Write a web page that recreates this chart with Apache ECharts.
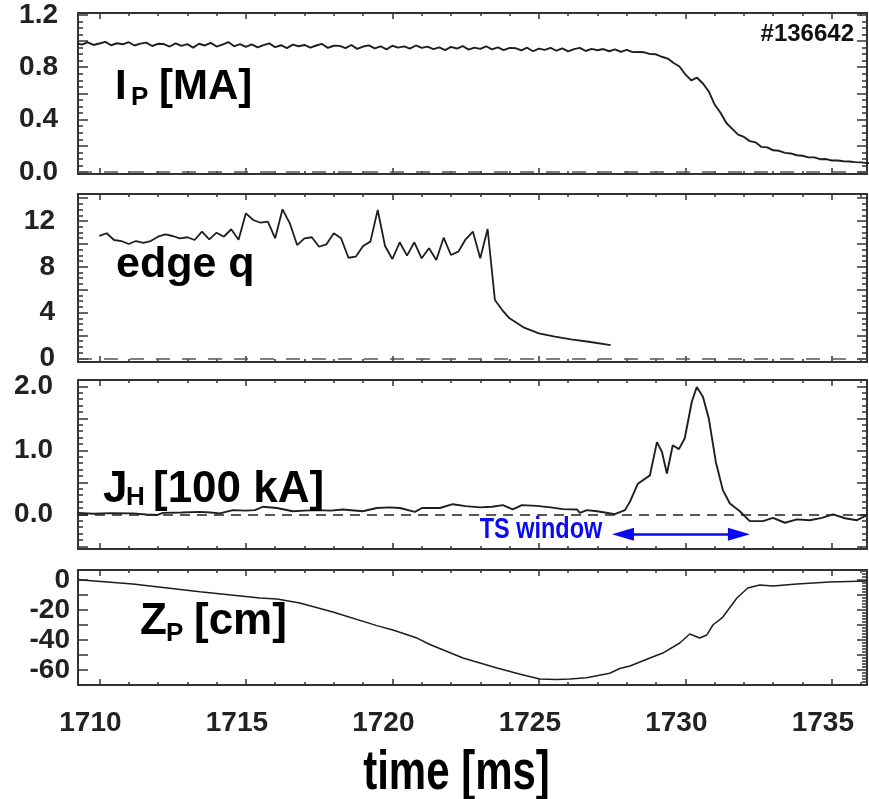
<!DOCTYPE html>
<html><head><meta charset="utf-8">
<script src="https://cdn.jsdelivr.net/npm/echarts@6/dist/echarts.min.js"></script>
<style>html,body{margin:0;padding:0;background:#fff}#c{width:869px;height:799px}</style>
</head><body><div id="c"></div>
<script>
// ---------- data ----------
const xMin = 1709.27, xMax = 1736.2;
const xTickLabels = [1710, 1715, 1720, 1725, 1730, 1735];
const xMinorTicks = [1710,1711,1712,1713,1714,1715,1716,1717,1718,1719,1720,1721,1722,1723,1724,1725,1726,1727,1728,1729,1730,1731,1732,1733,1734,1735,1736];

const ipTickLabels = [0, 0.4, 0.8, 1.2];
const qTickLabels = [0, 4, 8, 12];
const jhTickLabels = [0, 1, 2];
const zpTickLabels = [0, -20, -40, -60];

// plasma current I_P [MA], sampled every 0.2 ms from 1709.2 ms
const ipStart = 1709.2, ipStep = 0.2;
const ipValues = [
 0.985,0.972,0.990,0.970,0.981,0.994,0.968,0.983,0.975,0.991,0.966,0.980,0.988,0.962,0.979,
 0.977,0.958,0.982,0.963,0.976,0.950,0.979,0.966,0.986,0.958,0.972,0.992,0.960,0.977,0.955,
 0.974,0.951,0.969,0.982,0.953,0.968,0.946,0.973,0.960,0.970,0.950,0.966,0.978,0.948,0.964,
 0.963,0.946,0.970,0.940,0.958,0.967,0.944,0.960,0.936,0.964,0.950,0.959,0.942,0.966,0.948,
 0.957,0.938,0.952,0.930,0.955,0.943,0.962,0.934,0.950,0.940,0.960,0.936,0.952,0.931,0.948,
 0.946,0.928,0.949,0.922,0.942,0.933,0.948,0.926,0.944,0.921,0.938,0.948,0.924,0.940,0.930,
 0.939,0.922,0.936,0.918,0.933,0.915,0.916,
 0.914,0.900,0.899,0.880,0.866,0.832,0.806,0.745,0.700,0.720,
 0.676,0.615,0.515,0.452,0.374,0.330,0.286,0.268,0.236,0.226,
 0.192,0.188,0.166,0.162,0.146,0.142,0.128,0.124,0.112,0.112,
 0.098,0.099,0.088,0.088,0.082,0.080,0.076,0.074,0.068,0.068
];

// edge q
const qData = [
 [1710.00,10.70],[1710.25,10.93],[1710.50,10.34],[1710.75,10.25],[1711.00,9.99],[1711.25,10.25],[1711.50,10.08],[1711.75,10.25],
 [1712.00,10.63],[1712.25,10.84],[1712.50,10.69],[1712.75,10.49],[1713.00,10.58],[1713.25,10.34],[1713.50,11.07],[1713.75,10.40],
 [1714.00,10.98],[1714.25,10.63],[1714.50,11.28],[1714.75,10.37],[1715.00,12.67],[1715.25,12.09],[1715.50,11.85],[1715.75,11.94],
 [1716.00,10.49],[1716.25,13.02],[1716.50,11.80],[1716.75,9.90],[1717.00,10.49],[1717.25,10.58],[1717.50,9.75],[1717.75,9.96],
 [1718.00,10.93],[1718.25,10.49],[1718.50,8.79],[1718.75,8.88],[1719.00,9.82],[1719.25,10.20],[1719.50,12.96],[1719.75,9.82],
 [1720.00,8.68],[1720.25,10.14],[1720.50,8.97],[1720.75,10.14],[1721.00,8.74],[1721.25,9.62],[1721.50,8.60],[1721.75,10.54],
 [1722.00,9.03],[1722.25,9.32],[1722.50,10.40],[1722.75,11.07],[1723.00,8.74],[1723.25,11.30],[1723.50,5.10],[1723.75,4.22],
 [1724.00,3.50],[1724.50,2.68],[1725.00,2.18],[1725.55,1.89],[1726.10,1.66],[1726.70,1.45],[1727.45,1.16]
];

// halo current J_H [100 kA]
const jhData = [
 [1709.27,0.025],[1709.8,0.01],[1710.4,0.02],[1711.14,0.016],[1711.6,0.0],[1711.96,-0.01],[1712.17,0.025],[1712.8,0.03],
 [1713.43,0.04],[1713.8,0.03],[1714.11,0.016],[1714.56,0.067],[1715.0,0.06],[1715.31,0.067],[1715.58,0.12],[1716.06,0.10],
 [1716.6,0.05],[1717.0,0.06],[1717.42,0.067],[1717.9,0.06],[1718.31,0.078],[1718.99,0.05],[1719.47,0.10],[1719.9,0.11],
 [1720.26,0.10],[1720.77,0.04],[1721.01,0.10],[1721.62,0.10],[1722.06,0.16],[1722.5,0.13],[1722.99,0.11],[1723.4,0.12],
 [1723.77,0.145],[1724.11,0.08],[1724.42,0.145],[1724.93,0.134],[1725.4,0.11],[1725.82,0.083],[1726.3,0.078],[1726.4,0.025],
 [1726.64,0.067],[1726.98,0.05],[1727.25,0.03],[1727.59,0.005],[1727.94,0.067],[1728.11,0.2],[1728.38,0.48],[1728.79,0.61],
 [1729.03,1.13],[1729.2,0.98],[1729.37,0.64],[1729.57,1.08],[1729.78,1.02],[1729.98,1.19],[1730.22,1.76],[1730.39,1.99],
 [1730.6,1.84],[1730.8,1.5],[1731.04,0.82],[1731.28,0.38],[1731.52,0.17],[1731.86,0.05],[1732.2,-0.105],[1732.65,-0.105],
 [1732.99,-0.053],[1733.4,-0.13],[1733.81,-0.078],[1734.25,-0.09],[1734.66,-0.053],[1735.04,0],[1735.45,-0.06],[1735.86,-0.09],
 [1736.2,-0.01]
];

// vertical position Z_P [cm]
const zpData = [
 [1709.3,0.3],[1709.4,0],[1711.14,-2.7],[1713.43,-7.8],[1715.48,-12],[1716.06,-12.7],[1716.84,-15.3],[1717.97,-21.3],
 [1719.47,-30.4],[1720.02,-33.3],[1720.84,-38.7],[1721.28,-43],[1722.41,-52],[1723.57,-58.7],[1724.4,-63],[1725.03,-66],
 [1725.6,-66.3],[1726.06,-66],[1726.63,-65.1],[1727.42,-62.2],[1727.76,-59],[1728.11,-57.3],[1728.79,-52],[1729.23,-48.7],
 [1729.81,-42],[1730.15,-36],[1730.49,-38.7],[1730.73,-36.7],[1730.94,-30],[1731.28,-24.7],[1731.76,-12],[1732.13,-5.3],
 [1732.54,-3.3],[1732.99,-4],[1733.81,-2.7],[1734.93,-1.3],[1736.2,-0.7]
];

// TS window arrow: shaft ends (ms) and its level on the J_H axis
const tsArrowEnds = [1727.87, 1731.83];
const tsLevel = -0.31;

// ---------- build ----------
const ipData = ipValues.map((v, i) => [+(ipStart + i * ipStep).toFixed(2), v]);

function range(a, b, s) { const o = []; for (let v = a; v <= b + s * 1e-6; v += s) o.push(+v.toFixed(4)); return o; }

const FONT = "'Liberation Sans', Arial, Helvetica, sans-serif";
const FRAME = '#333';

const panels = [
  {top:13, height:161, min:-0.015, max:1.214, major:range(0,1.2,0.2), minor:range(0,1.2,0.05), minorLeft:true,
   labels:ipTickLabels, digits:1, margin:20, data:ipData, width:1.9, zero:{type:[14,12], color:'#555'}},
  {top:194, height:168, min:-0.32, max:14.36, major:range(0,14,2), minor:range(0,14,0.5), minorLeft:true,
   labels:qTickLabels, digits:0, margin:23, data:qData, width:1.8, zero:{type:[14,12], color:'#555'}},
  {top:380, height:169, min:-0.54, max:2.10, major:range(-0.5,2,0.5), minor:range(-0.5,2.1,0.1), minorLeft:true,
   labels:jhTickLabels, digits:1, margin:25, data:jhData, width:1.9, zero:{type:[10,7], color:'#222'}},
  {top:570, height:115, min:-70, max:6.67, major:range(-70,0,10), minor:range(-70,6,2), minorLeft:false,
   labels:zpTickLabels, digits:0, margin:8, data:zpData, width:1.5, zero:null}
];

const grid = [], xAxis = [], yAxis = [], series = [];
const labelStyle = {fontFamily: FONT, fontWeight: 'bold', fontSize: 28, color: '#222'};

panels.forEach((p, i) => {
  for (let k = 0; k < 2; k++) {
    const minorLayer = k === 1;
    const g = grid.length;
    grid.push({left: 78, right: 2, top: p.top, height: p.height});
    ['bottom', 'top'].forEach(pos => {
      xAxis.push({
        type: 'value', gridIndex: g, position: pos, min: xMin, max: xMax,
        axisLine: {show: !minorLayer, onZero: false, lineStyle: {color: FRAME, width: 2}},
        axisTick: {show: true, inside: true, length: minorLayer ? 3 : 6,
          customValues: minorLayer ? xMinorTicks : xTickLabels, lineStyle: {color: FRAME, width: 1.5}},
        axisLabel: Object.assign({show: !minorLayer && pos === 'bottom' && i === 3,
          customValues: xTickLabels, margin: 24, padding: [0, 18, 0, 0],
          formatter: v => String(Math.round(v))}, labelStyle),
        splitLine: {show: false}
      });
    });
    ['left', 'right'].forEach(pos => {
      yAxis.push({
        type: 'value', gridIndex: g, position: pos, min: p.min, max: p.max,
        axisLine: {show: !minorLayer, onZero: false, lineStyle: {color: FRAME, width: 2}},
        axisTick: {show: !(minorLayer && pos === 'left' && !p.minorLeft), inside: true,
          length: minorLayer ? 5 : 10, customValues: minorLayer ? p.minor : p.major,
          lineStyle: {color: FRAME, width: 1.5}},
        axisLabel: Object.assign({show: !minorLayer && pos === 'left', customValues: p.labels,
          margin: p.margin, formatter: v => Number(v).toFixed(p.digits)}, labelStyle),
        splitLine: {show: false}
      });
    });
  }
  const s = {
    type: 'line', xAxisIndex: 4 * i, yAxisIndex: 4 * i, data: p.data,
    symbol: 'none', showSymbol: false, animation: false, silent: true,
    lineStyle: {color: '#1e1e1e', width: p.width}
  };
  if (p.zero) {
    s.markLine = {silent: true, symbol: 'none', animation: false, label: {show: false},
      lineStyle: {type: p.zero.type, color: p.zero.color, width: 1.6}, data: [{yAxis: 0}]};
  }
  series.push(s);
});

// TS window arrow (J_H panel)
series.push({
  type: 'line', xAxisIndex: 8, yAxisIndex: 8, data: [], symbol: 'none', animation: false, silent: true,
  markLine: {silent: true, animation: false, symbol: ['triangle', 'triangle'], symbolSize: [13, 22],
    label: {show: false},
    lineStyle: {type: 'solid', color: '#0a0af0', width: 2.5},
    data: [[{coord: [tsArrowEnds[0], tsLevel]}, {coord: [tsArrowEnds[1], tsLevel]}]]}
});

function txt(x, y, text, size, opts) {
  return Object.assign({type: 'text', x: x, y: y, silent: true, z: 100,
    style: Object.assign({text: text, fontFamily: FONT, fontWeight: 'bold', fontSize: size,
      fill: '#000', align: 'left', verticalAlign: 'middle'}, (opts && opts.style) || {})},
    (opts && opts.el) || {});
}

const graphic = [
  txt(854, 34, '#136642', 24, {style: {align: 'right', fill: '#111'}}),
  txt(115, 87.5, 'I', 42),
  txt(131, 98, 'P', 26),
  txt(159, 87.5, '[MA]', 42),
  txt(116, 265, 'edge q', 43),
  txt(103, 490, 'J', 44),
  txt(126, 498, 'H', 26),
  txt(153, 490, '[100 kA]', 44),
  txt(140, 622, 'Z', 44),
  txt(166, 634, 'P', 26),
  txt(194, 622, '[cm]', 44),
  txt(541, 530, 'TS window', 29, {style: {align: 'center', fill: '#0a0af0'}, el: {scaleX: 0.81}}),
  txt(456.5, 773.6, 'time [ms]', 56, {style: {align: 'center'}, el: {scaleX: 0.75}})
];

const chart = echarts.init(document.getElementById('c'), null, {renderer: 'canvas'});
chart.setOption({animation: false, backgroundColor: '#fff', grid, xAxis, yAxis, series, graphic});
</script>
</body></html>
